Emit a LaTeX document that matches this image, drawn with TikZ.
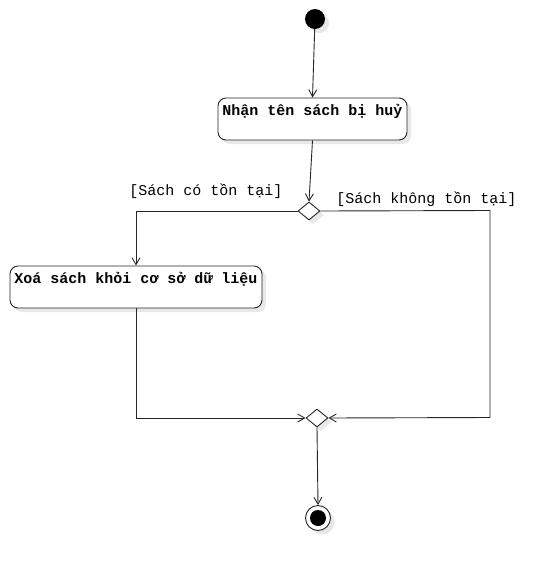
\documentclass[tikz,border=0pt]{standalone}
\usepackage{fontspec}
\setmonofont{Liberation Mono}
\usetikzlibrary{shapes.geometric}
\usetikzlibrary{shadows}
\usetikzlibrary{arrows.meta}

\tikzset{
    shade/.style={drop shadow={shadow xshift=4pt,shadow yshift=-4pt,fill=black!9,opacity=1}},
    action/.style={draw=black!85,fill=white,rounded corners=8pt,shade,line width=0.9pt,
        font=\ttfamily\bfseries\fontsize{15}{16}\selectfont,
        inner xsep=3pt,inner ysep=4pt,text height=13pt,text depth=21pt},
    choice/.style={diamond,draw=black!85,fill=white,shade,inner sep=0pt,line width=0.9pt,
        minimum width=22pt,minimum height=18pt},
    guard/.style={font=\ttfamily\fontsize{15}{16}\selectfont,inner sep=0pt},
    flow/.style={draw=black!85,line width=0.9pt,-{Straight Barb[length=7pt,width=8pt]}},
}

\begin{document}
\begin{tikzpicture}[x=1pt,y=-1pt]
                \useasboundingbox (0,0) rectangle (556,571);
                \node[circle,fill=black,minimum size=20pt,inner sep=0pt,shade] (start) at (315,19) {};
                \node[action,minimum width=189pt] (receive) at (312.5,119) {Nhận tên sách bị huỷ};
                \node[choice] (check) at (309,211) {};
                \node[action,minimum width=252pt] (remove) at (136,287) {Xoá sách khỏi cơ sở dữ liệu};
                \node[choice] (join) at (317,418) {};
                \node[circle,draw=black!85,fill=white,minimum size=25pt,inner sep=0pt,shade,line width=0.9pt,
                    path picture={\fill[black] (path picture bounding box.center) circle (8pt);}] (stop) at (318,518) {};
                \node[guard] (gyes) at (206,191) {[Sách có tồn tại]};
                \node[guard] (gno) at (426.5,199) {[Sách không tồn tại]};
                \coordinate (rtop) at (490,210.5);
                \coordinate (rbot) at (490,417.5);
                \draw[flow] (start) -- (receive.north);
                \draw[flow] (receive.south) -- (check.north);
                \draw[flow] (check.west) -| (remove.north);
                \draw[flow] (check.east) -- (rtop) -- (rbot) -- (join.east);
                \draw[flow] (remove.south) |- (join.west);
                \draw[flow] (join.south) -- (stop.north);
            \end{tikzpicture}
\end{document}
